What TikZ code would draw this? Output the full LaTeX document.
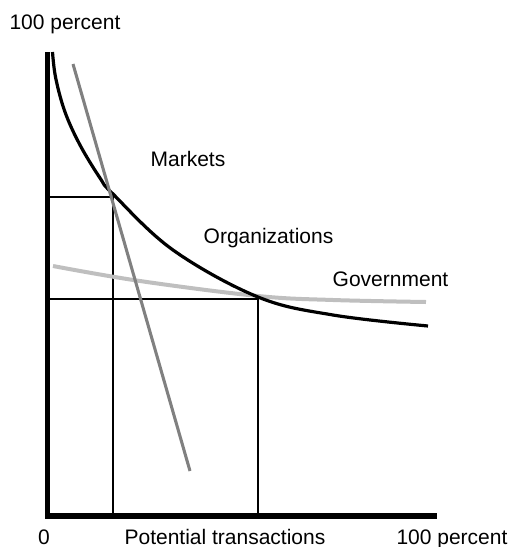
\documentclass[tikz,border=0pt]{standalone}
\usepackage{fontspec}
\setmainfont{Liberation Sans}
\begin{document}
\begin{tikzpicture}[x=0.75pt,y=-0.75pt,
    lbl/.style={anchor=base,inner sep=0pt,font=\fontsize{15.75}{18}\selectfont},
    axis/.style={line width=4pt,line join=miter},
    guide/.style={line width=1.1pt},
    orgline/.style={line width=2.4pt},
    mktline/.style={line width=2.3pt,draw=gray},
    govline/.style={line width=3pt,draw=lightgray}]
    \useasboundingbox (0,0) rectangle (510,547);

    \coordinate (ytip) at (47.5,52);
    \coordinate (o) at (47.5,516);
    \coordinate (xtip) at (437,516);
    \coordinate (p) at (113,197);
    \coordinate (q) at (258,299);

    \node[lbl] (ytop) at (65,29) {100 percent};
    \node[lbl] (zero) at (44,544) {0};
    \node[lbl] (xlab) at (225,544) {Potential transactions};
    \node[lbl] (xend) at (452,544) {100 percent};
    \node[lbl] (mkt) at (188,166) {Markets};
    \node[lbl] (org) at (268.5,243) {Organizations};
    \node[lbl] (gov) at (390.5,286) {Government};

    \draw [guide] (ytip |- p) -- (p) -- (p |- o);
    \draw [guide] (ytip |- q) -- (q) -- (q |- o);

    \draw [govline] plot[smooth,tension=0.6] coordinates {(53,266) (140,281) (258,296) (333,300) (426,302)};
    \draw [orgline] plot[smooth,tension=0.6] coordinates {(52.5,52) (55.7,78) (65,112) (80,145) (100,178) (113,194) (173,250) (258,297) (333,315) (428,326)};
    \draw [mktline] (73,64) -- (190,471);

    \draw [axis] (ytip) -- (o) -- (xtip);

\end{tikzpicture}
\end{document}
